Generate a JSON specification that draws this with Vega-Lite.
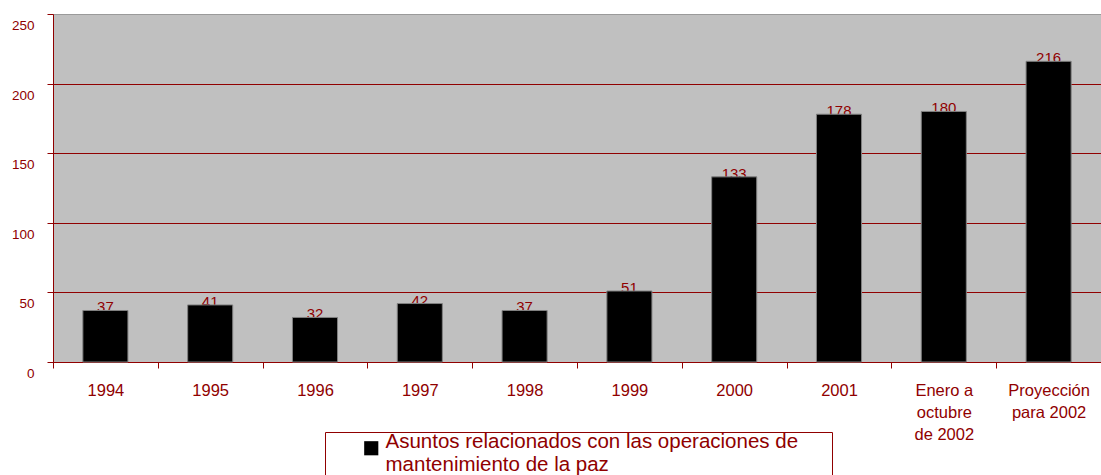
{
  "$schema": "https://vega.github.io/schema/vega-lite/v6.json",
  "width": 1048,
  "height": 348,
  "autosize": {"type": "none"},
  "padding": {"left": 53, "top": 14, "right": 0, "bottom": 113},
  "background": "#ffffff",
  "config": {
    "font": "Liberation Sans",
    "view": {"fill": "#c0c0c0", "stroke": "#9a9a9a", "strokeWidth": 1}
  },
  "data": {
    "values": [
      {"periodo": "1994", "asuntos": 37, "serie": "Asuntos relacionados con las operaciones de mantenimiento de la paz"},
      {"periodo": "1995", "asuntos": 41, "serie": "Asuntos relacionados con las operaciones de mantenimiento de la paz"},
      {"periodo": "1996", "asuntos": 32, "serie": "Asuntos relacionados con las operaciones de mantenimiento de la paz"},
      {"periodo": "1997", "asuntos": 42, "serie": "Asuntos relacionados con las operaciones de mantenimiento de la paz"},
      {"periodo": "1998", "asuntos": 37, "serie": "Asuntos relacionados con las operaciones de mantenimiento de la paz"},
      {"periodo": "1999", "asuntos": 51, "serie": "Asuntos relacionados con las operaciones de mantenimiento de la paz"},
      {"periodo": "2000", "asuntos": 133, "serie": "Asuntos relacionados con las operaciones de mantenimiento de la paz"},
      {"periodo": "2001", "asuntos": 178, "serie": "Asuntos relacionados con las operaciones de mantenimiento de la paz"},
      {"periodo": "Enero a|octubre|de 2002", "asuntos": 180, "serie": "Asuntos relacionados con las operaciones de mantenimiento de la paz"},
      {"periodo": "Proyección|para 2002", "asuntos": 216, "serie": "Asuntos relacionados con las operaciones de mantenimiento de la paz"}
    ]
  },
  "encoding": {
    "x": {
      "field": "periodo",
      "type": "nominal",
      "sort": null,
      "scale": {"paddingInner": 0, "paddingOuter": 0},
      "axis": {
        "title": null,
        "orient": "bottom",
        "labelExpr": "split(datum.label, '|')",
        "labelAngle": 0,
        "labelFontSize": 16.5,
        "labelColor": "#900000",
        "labelLineHeight": 22,
        "labelBaseline": "top",
        "labelLimit": 0,
        "labelPadding": 14,
        "tickBand": "extent",
        "tickSize": 6,
        "tickColor": "#900000",
        "domainColor": "#900000",
        "grid": false
      }
    },
    "y": {
      "field": "asuntos",
      "type": "quantitative",
      "scale": {"domain": [0, 250]},
      "axis": {
        "title": null,
        "values": [0, 50, 100, 150, 200, 250],
        "labelFontSize": 13.5,
        "labelColor": "#900000",
        "labelPadding": 13,
        "labelBaseline": "alphabetic",
        "labelOffset": 15.5,
        "tickSize": 6,
        "tickColor": "#900000",
        "domainColor": "#900000",
        "gridColor": {"condition": {"test": "datum.value == 250", "value": "#9a9a9a"}, "value": "#900000"}
      }
    }
  },
  "layer": [
    {
      "mark": {"type": "text", "baseline": "alphabetic", "dy": 2, "fontSize": 15, "fill": "#900000"},
      "encoding": {"text": {"field": "asuntos", "type": "quantitative"}}
    },
    {
      "mark": {"type": "bar", "width": {"band": 0.43}, "stroke": "#808080", "strokeWidth": 1},
      "encoding": {
        "color": {
          "field": "serie",
          "type": "nominal",
          "scale": {"range": ["#000000"]},
          "legend": {
            "title": " ",
            "titleOrient": "right",
            "titleFontSize": 1,
            "titlePadding": 28,
            "orient": "none",
            "legendX": 272,
            "legendY": 418,
            "padding": 6,
            "strokeColor": "#900000",
            "fillColor": "#ffffff",
            "labelExpr": "['Asuntos relacionados con las operaciones de', 'mantenimiento de la paz']",
            "labelFontSize": 20.5,
            "labelColor": "#900000",
            "labelLimit": 0,
            "labelLineHeight": 21.5,
            "labelOffset": 4,
            "labelBaseline": "alphabetic",
            "symbolOffset": 30,
            "symbolType": "square",
            "symbolSize": 200,
            "symbolStrokeWidth": 0
          }
        }
      }
    }
  ]
}
